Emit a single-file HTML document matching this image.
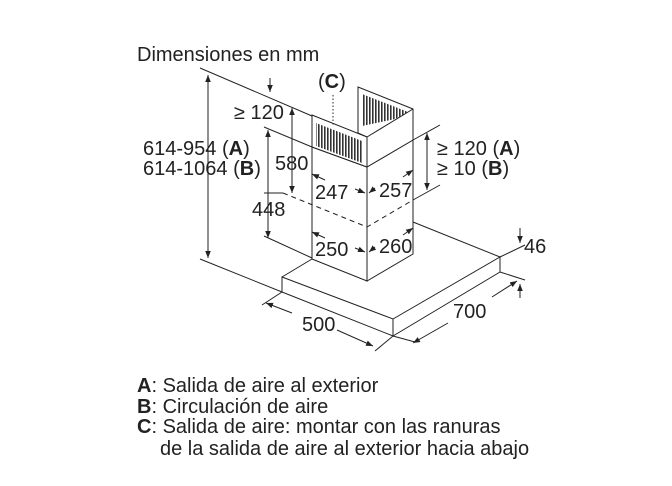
<!DOCTYPE html>
<html><head><style>
html,body{margin:0;padding:0;background:#fff;}
svg{display:block;}
text{font-family:"Liberation Sans",Arial,sans-serif;fill:#222;}
</style></head><body>
<svg width="672" height="486" viewBox="0 0 672 486" xmlns="http://www.w3.org/2000/svg">
<defs>
<marker id="a" viewBox="0 0 10 10" refX="10" refY="5" markerWidth="7" markerHeight="7" orient="auto-start-reverse"><path d="M0,1 L10,5 L0,9 z" fill="#222"/></marker>
<pattern id="sl" width="3" height="4" patternUnits="userSpaceOnUse"><rect width="1.6" height="4" fill="#333"/></pattern>
</defs>
<g stroke="#222" stroke-width="1" fill="none">
<line x1="200" y1="68" x2="312" y2="116"/>
<line x1="200" y1="259" x2="282" y2="292"/>
<line x1="264" y1="127" x2="312" y2="147"/>
<line x1="264" y1="193" x2="283" y2="193"/>
<line x1="264" y1="236" x2="312" y2="258"/>
<line x1="413" y1="140" x2="440" y2="125"/>
<line x1="413" y1="200" x2="440" y2="185"/>
<line x1="500" y1="257" x2="525" y2="245"/>
<line x1="500" y1="272" x2="525" y2="280"/>
<line x1="282" y1="292" x2="262" y2="305"/>
<line x1="393" y1="336" x2="375" y2="351"/>
<line x1="393" y1="336" x2="415" y2="342"/>
<path d="M282,277 L393,319 L500,257 L500,272 L393,336 L282,292 Z" fill="#fff"/>
<line x1="393" y1="319" x2="393" y2="336"/>
<line x1="282" y1="277" x2="312" y2="259"/>
<line x1="500" y1="257" x2="413" y2="222"/>
<path d="M312,147 L312,259 L367,281 L367,167 Z" fill="#fff"/>
<path d="M367,167 L413,140 L413,254 L367,281 Z" fill="#fff"/>
<path d="M358,87 L413,109 L413,140 L367,167 L367,137 L358,133 Z" fill="#fff"/>
<path d="M312,115 L367,137 L367,167 L312,147 Z" fill="#fff"/>
<path d="M316,123 L362,141 L362,163 L316,146 Z" fill="url(#sl)" stroke="none"/>
<path d="M362,94 L408,112 L395,119 L362,126 Z" fill="url(#sl)" stroke="none"/>
<line x1="367" y1="137" x2="413" y2="109"/>
<line x1="358" y1="87" x2="358" y2="133"/>
<polyline points="283,193 367,227 413,200" stroke-dasharray="5,4"/>
<line x1="333" y1="95" x2="333" y2="125" stroke-dasharray="1.5,2"/>
<line x1="208" y1="75" x2="208" y2="258" marker-start="url(#a)" marker-end="url(#a)"/>
<line x1="270" y1="78" x2="270" y2="92" marker-end="url(#a)"/>
<line x1="292" y1="108" x2="292" y2="193" marker-start="url(#a)" marker-end="url(#a)"/>
<line x1="268" y1="130" x2="268" y2="238" marker-start="url(#a)" marker-end="url(#a)"/>
<line x1="427" y1="133" x2="427" y2="190" marker-start="url(#a)" marker-end="url(#a)"/>
<line x1="520" y1="228" x2="520" y2="243" marker-end="url(#a)"/>
<line x1="520" y1="298" x2="520" y2="284" marker-end="url(#a)"/>
<line x1="266" y1="303" x2="292" y2="313" marker-start="url(#a)"/>
<line x1="337" y1="330" x2="373" y2="346" marker-end="url(#a)"/>
<line x1="413" y1="343" x2="448" y2="323" marker-start="url(#a)"/>
<line x1="492" y1="297" x2="517" y2="281" marker-end="url(#a)"/>
<line x1="312" y1="174" x2="325" y2="180" marker-start="url(#a)"/>
<line x1="355" y1="189" x2="365" y2="193" marker-end="url(#a)"/>
<line x1="413" y1="170" x2="403" y2="177" marker-start="url(#a)"/>
<line x1="375" y1="188" x2="369" y2="193" marker-end="url(#a)"/>
<line x1="312" y1="232" x2="325" y2="238" marker-start="url(#a)"/>
<line x1="355" y1="248" x2="365" y2="252" marker-end="url(#a)"/>
<line x1="413" y1="228" x2="403" y2="235" marker-start="url(#a)"/>
<line x1="375" y1="247" x2="369" y2="252" marker-end="url(#a)"/>
</g>
<g font-size="20">
<text x="137" y="61">Dimensiones en mm</text>
<text x="318" y="88">(<tspan font-weight="bold">C</tspan>)</text>
<text x="234" y="119">≥ 120</text>
<text x="143" y="155">614-954 (<tspan font-weight="bold">A</tspan>)</text>
<text x="143" y="175">614-1064 (<tspan font-weight="bold">B</tspan>)</text>
<text x="275" y="170">580</text>
<text x="252" y="216">448</text>
<text x="315" y="199">247</text>
<text x="379" y="197">257</text>
<text x="315" y="256">250</text>
<text x="379" y="253">260</text>
<text x="437" y="155">≥ 120 (<tspan font-weight="bold">A</tspan>)</text>
<text x="437" y="175">≥ 10 (<tspan font-weight="bold">B</tspan>)</text>
<text x="524" y="253">46</text>
<text x="302" y="331">500</text>
<text x="453" y="318">700</text>
<text x="137" y="392"><tspan font-weight="bold">A</tspan>: Salida de aire al exterior</text>
<text x="137" y="413"><tspan font-weight="bold">B</tspan>: Circulación de aire</text>
<text x="137" y="433"><tspan font-weight="bold">C</tspan>: Salida de aire: montar con las ranuras</text>
<text x="160" y="455">de la salida de aire al exterior hacia abajo</text>
</g>
</svg>
</body></html>
